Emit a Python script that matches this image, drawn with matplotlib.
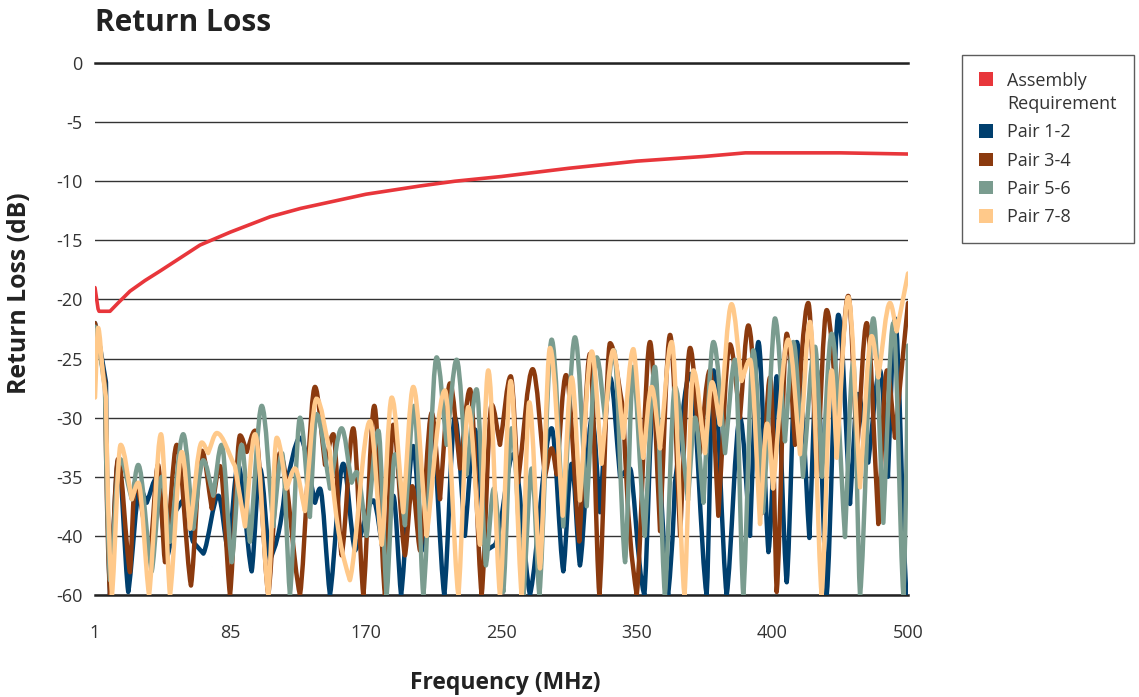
import numpy as np
import matplotlib
matplotlib.use("Agg")
import matplotlib.pyplot as plt
from matplotlib.scale import FuncScale
from matplotlib.patches import Patch, PathPatch, Rectangle
from matplotlib.path import Path
from matplotlib.legend_handler import HandlerPatch

plt.rcParams['font.family'] = ['Open Sans', 'DejaVu Sans']

# ---------------- data ----------------
x_ticks = [1, 85, 170, 250, 350, 400, 500]
x_tick_labels = ["1", "85", "170", "250", "350", "400", "500"]
y_ticks = [-60, -40, -35, -30, -25, -20, -15, -10, -5, 0]
y_tick_labels = ["-60", "-40", "-35", "-30", "-25", "-20", "-15", "-10", "-5", "0"]

req_f = [1, 2.9, 3.5, 10.3, 15.3, 22.7, 32, 41.3, 53.7, 66.1, 85, 110, 129, 170,
         202, 222.5, 250, 300, 350, 375, 390, 400, 450, 500]
req_db = [-19.0, -20.8, -21.0, -21.0, -20.3, -19.3, -18.4, -17.6, -16.5, -15.4, -14.3,
          -13.0, -12.3, -11.1, -10.4, -10.0, -9.6, -8.9, -8.3, -7.9, -7.6, -7.6, -7.6, -7.7]

p12_f = [1, 4.1, 7.8, 10.3, 15.4, 21.6, 28.9, 33.1, 39.3, 45.5, 50.6, 56.8, 61.8, 68.2,
         77.5, 83.5, 89.7, 98.3, 103.5, 109.8, 119.2, 128.6, 138.0, 141.1, 147.4, 155.7,
         163.1, 174.3, 181.2, 186.1, 190.7, 197.9, 203.0, 208.8, 216.2, 222.5, 228.4,
         234.3, 240.9, 246.2, 258.7, 271.0, 287.0, 295.6, 301.8, 307.9, 316.8, 322.7,
         330.1, 337.5, 344.8, 352.7, 356.0, 361.5, 364.0, 369.6, 375.7, 378.2, 383.1,
         388.0, 391.7, 394.8, 398.5, 403.1, 410.5, 417.9, 427.2, 432.8, 440.0, 448.6,
         457.2, 463.1, 470.7, 479.3, 485.2, 490.4, 499.0]
p12_db = [-22, -24, -27, -60, -33.6, -59, -36, -37.2, -35.1, -47.7, -38, -36.9, -42, -46,
          -36.6, -45, -34, -52, -34.3, -48, -36, -31.7, -37.2, -36, -60, -33.9,
          -45, -37, -48, -36.6, -60, -32.4, -45, -30.9, -60, -30, -40,
          -31, -45, -43, -33.1, -60, -30.9, -52, -33.9, -50, -30, -38,
          -26.6, -35, -34.3, -60, -28.6, -60, -35.5, -26.3, -60, -26, -60,
          -30, -40, -23.6, -45.5, -26.5, -55.7, -23.6, -40.7, -26, -60, -21.3,
          -37.3, -28, -33.8, -26, -35, -21.6, -60]

p34_f = [1, 4.1, 7.2, 10.3, 15.3, 22.7, 25.8, 35.1, 40.1, 44.4, 51.7, 60.5, 67.2, 73.4,
         78.5, 84.7, 91.0, 95.2, 100.4, 108.7, 116.0, 128.6, 138.0, 144.3, 149.5, 154.7,
         162.0, 168.3, 174.9, 181.2, 186.1, 193.0, 197.3, 201.9, 208.8, 213.7, 219.6,
         225.5, 231.4, 238.3, 244.2, 249.1, 256.8, 262.2, 273.0, 282.1, 287.0, 290.7,
         297.6, 307.4, 315.3, 322.2, 330.1, 339.9, 349.8, 354.8, 358.5, 362.2, 365.9,
         369.6, 373.2, 376.9, 380.0, 384.3, 388.0, 391.1, 396.0, 399.1, 403.1, 410.5,
         416.6, 426.4, 432.8, 440.0, 448.3, 455.9, 462.4, 469.5, 478.1, 484.5, 490.4, 500]
p34_db = [-22, -24.5, -27, -60, -33.5, -52.3, -35.5, -45, -34, -48.9, -32.3, -56.8, -32.8,
          -37.7, -34.1, -60, -31.5, -32.9, -31.1, -60, -33, -60, -27.4, -34, -31.4, -46.6,
          -30.9, -60, -29, -60, -30.6, -46.6, -35.8, -45, -29.6, -36.9, -27.1,
          -34.3, -27.6, -60, -28.9, -32.3, -26.5, -35.5, -25.9, -35, -32.6, -34.8,
          -26.4, -41.9, -24.6, -60, -23.7, -29.4, -60, -23.6, -39.6, -23, -40,
          -24.1, -33, -26, -38.3, -23.8, -30, -22.2, -38.1, -26.6, -59, -22.9,
          -32.3, -20.3, -35, -20.9, -30, -19.7, -33, -22, -39, -26, -31.7, -20.3]

p56_f = [1, 4.1, 7.2, 10.3, 16.5, 23.8, 27.8, 36.2, 42.4, 47.5, 55.7, 61.9, 68.1, 74.3,
         79.5, 85.8, 92.0, 97.2, 104.6, 111.8, 117.3, 122.3, 128.6, 134.8, 139.0, 147.4,
         154.7, 161.0, 164.1, 170.4, 177.3, 182.2, 187.1, 193.0, 198.5, 203.8, 211.7,
         217.6, 223.5, 229.4, 235.3, 240.8, 245.5, 251.3, 257.5, 266.1, 272.3, 277.9,
         287.0, 295.6, 304.2, 312.9, 320.3, 326.4, 333.0, 341.2, 347.3, 352.9, 356.6,
         360.3, 364.0, 368.8, 371.4, 374.5, 378.2, 382.5, 386.2, 389.2, 392.9, 396.5,
         401.8, 409.2, 415.4, 422.5, 431.4, 436.5, 443.7, 453.5, 459.6, 464.6, 474.4,
         481.8, 489.2, 496.6, 500]
p56_db = [-22.3, -24.5, -27.5, -55, -33.5, -36.9, -34, -52, -35, -42, -31.4, -39.4, -33.6,
          -36.6, -32.3, -48.9, -32.3, -42, -29, -39.2, -33, -60, -30, -38.4, -29.7, -36,
          -30.9, -35.5, -34.6, -40, -31.1, -60, -33.1, -39.1, -29, -60, -24.9,
          -32.3, -25.1, -34.8, -27.6, -50, -36, -59, -30.9, -60, -34.3, -60,
          -23.4, -39.2, -23.2, -37.5, -24.9, -30, -24.3, -48.9, -25.7, -40, -25.7,
          -60, -27.4, -37, -30, -37.2, -23.6, -33, -25.1, -60, -24.3, -38,
          -21.6, -32, -23.6, -35, -24, -35, -22.9, -40.4, -25.3, -60, -21.6,
          -38.9, -22, -60, -23.9]

p78_f = [1, 2.9, 6.0, 7.8, 11.5, 16.9, 23.8, 27.8, 34.5, 41.9, 47.5, 54.8, 59.9, 67.2,
         71.1, 76.5, 87.8, 94.1, 100.4, 108.7, 114.0, 120.2, 125.4, 131.7, 139.0, 147.4,
         159.9, 172.4, 179.3, 185.2, 192.0, 197.9, 205.8, 216.6, 224.5, 230.4, 237.3,
         242.2, 249.1, 256.8, 264.9, 270.5, 278.4, 285.8, 295.2, 301.8, 307.9, 316.6,
         323.9, 332.5, 339.9, 347.3, 352.3, 355.4, 358.5, 362.8, 367.5, 370.8, 375.1,
         377.7, 380.6, 384.9, 388.6, 391.7, 395.4, 398.0, 400.4, 411.7, 420.3, 427.7,
         436.3, 443.7, 447.4, 455.9, 464.6, 473.2, 478.1, 486.7, 491.7, 500]
p78_db = [-28.3, -22.4, -26.5, -28.3, -60, -32.3, -36.9, -35.5, -60, -31.4, -60, -32.9,
          -39.4, -32.1, -33.0, -31.3, -34.1, -39.2, -31.4, -60, -31.7, -36, -34.3, -37.9,
          -28.4, -32.9, -55, -30.3, -43, -28.3, -38, -27.4, -40, -27.7, -60, -29.1, -43,
          -26, -60, -26.9, -60, -28.7, -51, -24.1, -38.3, -26.6, -37, -24.4,
          -33.9, -24.3, -31.7, -24.2, -33.4, -27.4, -32.6, -23.6, -60, -26, -33,
          -27, -30.6, -20.4, -26.9, -25.1, -39, -30.5, -36, -23.4, -33.1, -21.9,
          -60, -26, -33.4, -19.8, -35.9, -23.1, -26.6, -20.3, -22.7, -17.8]

series_names = ["Pair 1-2", "Pair 3-4", "Pair 5-6", "Pair 7-8"]
series_f = [p12_f, p34_f, p56_f, p78_f]
series_db = [p12_db, p34_db, p56_db, p78_db]
colors = ["#003F6E", "#8B3A0E", "#7A9C8F", "#FFC98A"]
req_color = "#E8363B"
req_name = "Assembly\nRequirement"


def curve_path(xs, ys):
    """Bezier path through the given data points: rounded at local maxima,
    straight towards neighbours elsewhere (drawing style only)."""
    n = len(xs)
    peak = [0 < i < n - 1 and ys[i] > ys[i - 1] and ys[i] > ys[i + 1] for i in range(n)]
    verts = [(xs[0], ys[0])]
    codes = [Path.MOVETO]
    for i in range(n - 1):
        x0, y0, x1, y1 = xs[i], ys[i], xs[i + 1], ys[i + 1]
        dx, dy = x1 - x0, y1 - y0
        c1 = (x0 + dx / 3, y0) if peak[i] else (x0 + dx / 3, y0 + dy / 3)
        c2 = (x1 - dx / 3, y1) if peak[i + 1] else (x1 - dx / 3, y1 - dy / 3)
        verts += [c1, c2, (x1, y1)]
        codes += [Path.CURVE4] * 3
    return Path(verts, codes)


# ---------------- figure ----------------
W, H = 1139, 697
fig = plt.figure(figsize=(W / 100, H / 100), dpi=100)
ax = fig.add_axes([95 / W, 1 - 595 / H, (908 - 95) / W, (595 - 63) / H])

xpos = np.arange(len(x_ticks))
ypos = np.arange(len(y_ticks))
ax.set_xscale(FuncScale(ax.xaxis, (lambda v: np.interp(v, x_ticks, xpos),
                                    lambda p: np.interp(p, xpos, x_ticks))))
ax.set_yscale(FuncScale(ax.yaxis, (lambda v: np.interp(v, y_ticks, ypos),
                                    lambda p: np.interp(p, ypos, y_ticks))))

for f, d, c in zip(series_f, series_db, colors):
    ax.add_patch(PathPatch(curve_path(f, d), facecolor='none', edgecolor=c, lw=3.2,
                           joinstyle='round', capstyle='round', zorder=3))
ax.plot(req_f, req_db, color=req_color, lw=2.6, zorder=4,
        solid_joinstyle='round', solid_capstyle='round')

ax.set_xlim(1, 500)
ax.set_ylim(-60, 0)
ax.set_xticks(x_ticks)
ax.set_xticklabels(x_tick_labels)
ax.set_yticks(y_ticks)
ax.set_yticklabels(y_tick_labels)
ax.tick_params(axis='both', length=0, labelsize=13, labelcolor='#333333')
ax.tick_params(axis='y', pad=9)
ax.tick_params(axis='x', pad=21)
ax.yaxis.grid(True, color='#333333', lw=1.0, zorder=1)
ax.set_axisbelow(True)
for s in ['left', 'right']:
    ax.spines[s].set_visible(False)
for s in ['top', 'bottom']:
    ax.spines[s].set_color('#222222')
    ax.spines[s].set_linewidth(1.8)

fig.text(95 / W, 1 - 31 / H, "Return Loss", fontsize=21.5, fontweight='bold',
         color='#222222', ha='left', va='baseline')
fig.text(505 / W, 1 - 683 / H, "Frequency (MHz)", fontsize=16.5, fontweight='bold',
         color='#222222', ha='center', va='center')
fig.text(20 / W, 1 - 293 / H, "Return Loss (dB)", fontsize=17.8, fontweight='bold',
         color='#222222', ha='center', va='center', rotation=90)


def top_aligned_square(legend, orig_handle, xdescent, ydescent, width, height, fontsize):
    # square sits beside the first line of the two-line label
    return Rectangle((-xdescent, -ydescent + 0.78 * fontsize), width, height)


req_handle = Patch(facecolor=req_color, edgecolor='none')
handles = [req_handle] + [Patch(facecolor=c, edgecolor='none') for c in colors]
labels = [req_name] + series_names
leg = fig.legend(handles, labels, loc='upper left', bbox_to_anchor=(962 / W, 1 - 55 / H),
                 frameon=True, fontsize=13, handlelength=0.78, handleheight=0.78,
                 handletextpad=0.78, borderpad=0.95, labelspacing=0.57, borderaxespad=0,
                 fancybox=False, edgecolor='#333333',
                 handler_map={req_handle: HandlerPatch(patch_func=top_aligned_square)})
leg.get_frame().set_linewidth(1.0)
for t in leg.get_texts():
    t.set_color('#333333')
    t.set_linespacing(1.35)

fig.savefig("out.png", dpi=100, facecolor='white')
